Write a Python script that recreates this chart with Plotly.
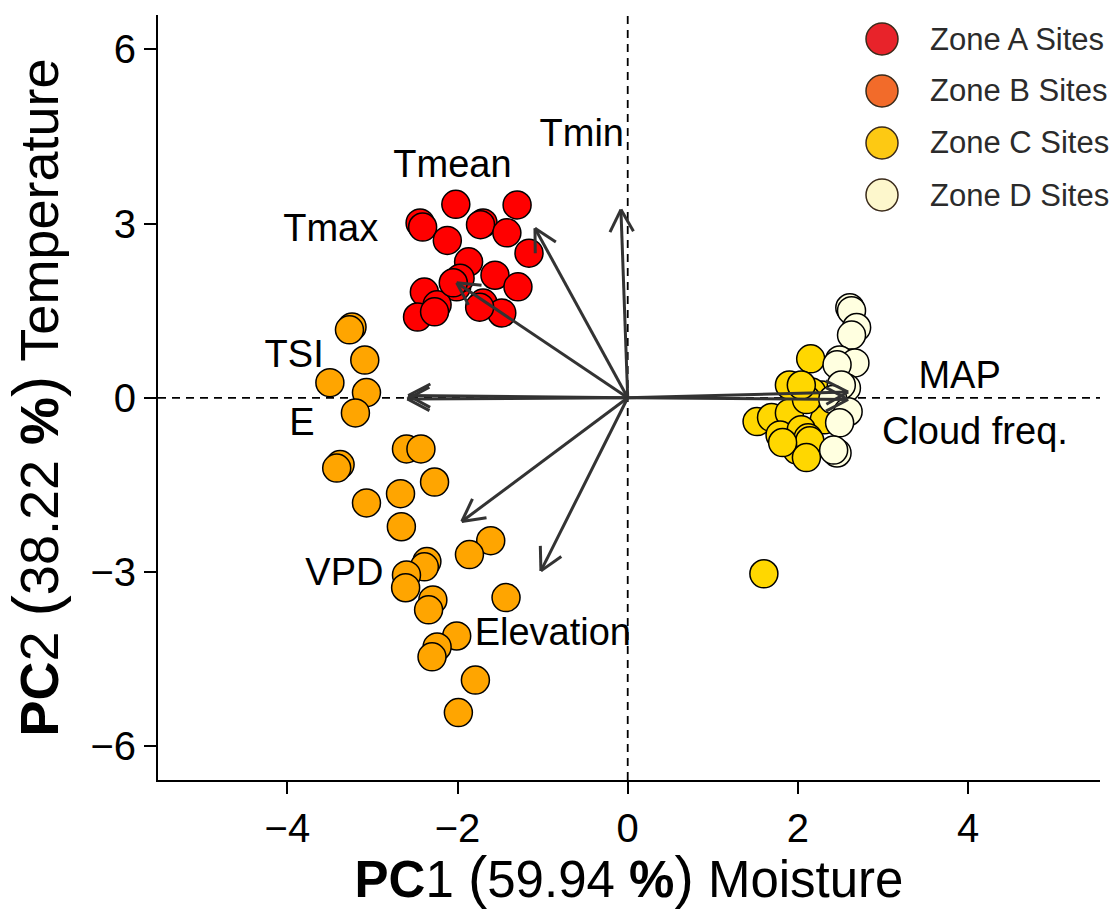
import math
import plotly.graph_objects as go

# ---------------- data ----------------
zone_names = ["Zone A Sites", "Zone B Sites", "Zone C Sites", "Zone D Sites"]

zoneA_pc1 = [-2.44, -2.41, -2.02, -1.30, -1.70, -1.73, -2.12, -1.42, -1.16, -1.87, -1.56,
             -1.29, -2.39, -2.01, -1.97, -2.47, -2.24, -2.27, -1.70, -1.48, -1.74, -2.05]
zoneA_pc2 = [3.01, 2.94, 3.33, 3.32, 3.01, 2.98, 2.71, 2.84, 2.49, 2.34, 2.11,
             1.91, 1.82, 1.91, 2.06, 1.39, 1.60, 1.48, 1.63, 1.46, 1.56, 1.98]

zoneB_pc1 = [-3.24, -3.27, -3.09, -3.50, -3.07, -3.20, -2.60, -2.43, -3.38, -3.42, -2.27,
             -3.07, -2.67, -2.66, -1.61, -1.86, -2.36, -2.39, -2.60, -2.61, -2.29, -2.34,
             -1.43, -2.01, -2.24, -2.30, -1.79, -1.99]
zoneB_pc2 = [1.22, 1.17, 0.65, 0.26, 0.09, -0.26, -0.88, -0.88, -1.15, -1.21, -1.45,
             -1.81, -1.65, -2.22, -2.46, -2.70, -2.82, -2.91, -3.05, -3.27, -3.48, -3.65,
             -3.44, -4.10, -4.29, -4.46, -4.86, -5.42]

zoneC_pc1 = [2.28, 2.31, 2.15, 1.52, 1.69, 1.96, 2.16, 1.90, 1.79, 2.04, 1.99, 2.12, 2.14,
             1.82, 2.10, 2.10, 1.90, 2.04, 1.60]
zoneC_pc2 = [0.05, -0.38, 0.67, -0.41, -0.34, 0.10, 0.10, -0.26, -0.64, -0.55, -0.90, -0.69,
             -0.74, -0.77, -0.03, -1.03, 0.22, 0.22, -3.03]

zoneD_pc1 = [2.61, 2.63, 2.69, 2.63, 2.49, 2.67, 2.46, 2.57, 2.51, 2.41, 2.59, 2.49, 2.46, 2.42]
zoneD_pc2 = [1.55, 1.50, 1.21, 1.08, 0.65, 0.60, 0.57, 0.17, 0.22, -0.03, -0.24, -0.43, -0.95, -0.90]

loading_names = ["Tmin", "Tmean", "Tmax", "TSI", "E", "VPD", "Elevation", "MAP", "Cloud freq."]
loading_pc1 = [-0.08, -1.09, -2.01, -2.58, -2.59, -1.95, -1.02, 2.59, 2.59]
loading_pc2 = [3.24, 2.92, 1.98, 0.04, -0.02, -2.13, -2.98, 0.10, -0.03]
label_pc1 = [-0.54, -2.06, -3.49, -3.92, -3.83, -3.33, -0.88, 3.90, 4.08]
label_pc2 = [4.49, 3.96, 2.86, 0.70, -0.48, -3.06, -4.10, 0.34, -0.64]

x_ticks = [-4, -2, 0, 2, 4]
y_ticks = [-6, -3, 0, 3, 6]

# ---------------- styles ----------------
point_colors = ["#ff0000", "#ffa500", "#ffd700", "#ffffe0"]
legend_colors = ["#e8232a", "#f26b2a", "#fdc913", "#fdf7cc"]
FONT = "Liberation Sans, Arial, Helvetica, sans-serif"

W, H = 1117, 909
ML, MR, MT, MB = 158, 17, 15, 129
XR = [-5.52, 5.55]
YR = [-6.58, 6.59]
sx = (W - ML - MR) / (XR[1] - XR[0])
sy = (H - MT - MB) / (YR[1] - YR[0])

fig = go.Figure()

zones = [(zoneA_pc1, zoneA_pc2), (zoneB_pc1, zoneB_pc2), (zoneC_pc1, zoneC_pc2), (zoneD_pc1, zoneD_pc2)]
for name, (xs, ys), col in zip(zone_names, zones, point_colors):
    fig.add_trace(go.Scatter(
        x=xs, y=ys, mode="markers", name=name, showlegend=False,
        marker=dict(size=28, color=col, line=dict(color="black", width=1.5)),
    ))

# arrows (shaft + open V head, head computed in pixel space)
HEAD_LEN = 25
HEAD_ANG = math.radians(28)
ax, ay = [], []
for lx, ly in zip(loading_pc1, loading_pc2):
    px, py = lx * sx, ly * sy
    L = math.hypot(px, py)
    ux, uy = px / L, py / L
    ax += [0, lx, None]
    ay += [0, ly, None]
    for s in (1, -1):
        c, sn = math.cos(s * HEAD_ANG), math.sin(s * HEAD_ANG)
        rx, ry = ux * c - uy * sn, ux * sn + uy * c
        wx = lx - HEAD_LEN * rx / sx
        wy = ly - HEAD_LEN * ry / sy
        ax += [wx, lx, None]
        ay += [wy, ly, None]

fig.add_trace(go.Scatter(
    x=ax, y=ay, mode="lines", showlegend=False, hoverinfo="skip",
    line=dict(color="#333333", width=3),
))

fig.add_trace(go.Scatter(
    x=label_pc1, y=label_pc2, mode="text", text=loading_names, showlegend=False,
    textposition="middle center",
    textfont=dict(family=FONT, size=38, color="black"),
))

# dashed reference lines
fig.add_shape(type="line", xref="x", yref="paper", x0=0, x1=0, y0=0, y1=1,
              line=dict(color="black", width=1.8, dash="8px,6px"), layer="below")
fig.add_shape(type="line", xref="paper", yref="y", x0=0, x1=1, y0=0, y1=0,
              line=dict(color="black", width=1.8, dash="8px,6px"), layer="below")

# manual legend (large circles)
leg_x_px = 882
leg_text_px = 928
leg_y0 = 39
leg_dy = 52
for i, (name, col) in enumerate(zip(zone_names, legend_colors)):
    cy = leg_y0 + i * leg_dy
    xp = (leg_x_px - ML) / (W - ML - MR)
    yp = 1 - (cy - MT) / (H - MT - MB)
    fig.add_shape(type="circle", xref="paper", yref="paper",
                  xsizemode="pixel", ysizemode="pixel", xanchor=xp, yanchor=yp,
                  x0=-16, x1=16, y0=-16, y1=16,
                  fillcolor=col, line=dict(color="#3a2a1a", width=1.5), layer="above")
    fig.add_annotation(xref="paper", yref="paper",
                       x=(leg_text_px - ML) / (W - ML - MR), y=yp,
                       xanchor="left", yanchor="middle", showarrow=False,
                       text=name, font=dict(family=FONT, size=31, color="#2b2b2b"))

x_title = ('<b>PC</b>1 <span style="font-size:58px">(</span>59.94 <b>%</b>'
           '<span style="font-size:58px">)</span> Moisture')
y_title = ('<b>PC</b>2 <span style="font-size:64px">(</span>38.22 <b>%</b>'
           '<span style="font-size:64px">)</span> Temperature')

fig.update_layout(
    width=W, height=H,
    margin=dict(l=ML, r=MR, t=MT, b=MB),
    paper_bgcolor="white", plot_bgcolor="white",
    font=dict(family=FONT, color="black"),
    showlegend=False,
    xaxis=dict(
        range=XR, tickvals=x_ticks, showgrid=False, zeroline=False,
        showline=True, linecolor="black", linewidth=2,
        ticks="outside", ticklen=12, tickwidth=2, tickcolor="black",
        tickfont=dict(family=FONT, size=40, color="black"),
        ticklabelstandoff=0,
        title=dict(text=x_title, font=dict(family=FONT, size=51, color="black"), standoff=12),
    ),
    yaxis=dict(
        range=YR, tickvals=y_ticks, showgrid=False, zeroline=False,
        showline=True, linecolor="black", linewidth=2,
        ticks="outside", ticklen=12, tickwidth=2, tickcolor="black",
        tickfont=dict(family=FONT, size=40, color="black"),
        title=dict(text=y_title, font=dict(family=FONT, size=54, color="black"), standoff=22),
    ),
)

fig.write_html("out.html")
